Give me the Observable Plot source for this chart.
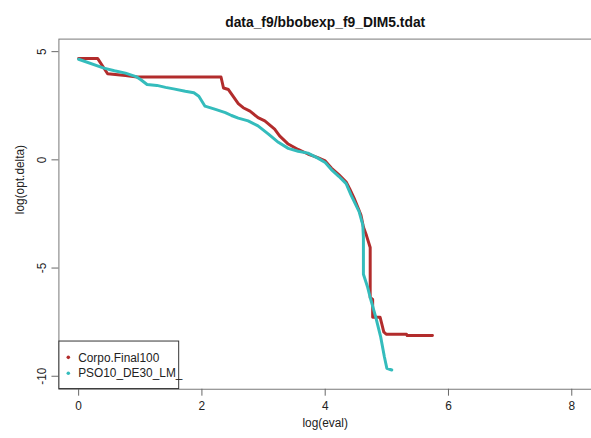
<!DOCTYPE html>
<html>
<head>
<meta charset="utf-8">
<script src="https://cdn.jsdelivr.net/npm/d3@7"></script>
<script src="https://cdn.jsdelivr.net/npm/@observablehq/plot@0.6"></script>
<style>
  html, body { margin: 0; padding: 0; background: #fff; overflow: hidden; }
  #chart { width: 591px; height: 438px; overflow: hidden; }
  svg { font-family: "Liberation Sans", Arial, sans-serif; }
</style>
</head>
<body>
<div id="chart"></div>
<script>
// Convergence traces on BBOB f9, 5-D: log(eval) vs log(opt.delta)
const title = "data_f9/bbobexp_f9_DIM5.tdat";
const xLabel = "log(eval)";
const yLabel = "log(opt.delta)";
const seriesNames = ["Corpo.Final100", "PSO10_DE30_LM_"];
const seriesColors = ["#b22c2c", "#34bcbc"];
const xTicks = [0, 2, 4, 6, 8];
const yTicks = [-10, -5, 0, 5];

const corpoX = [0, 0.31, 0.47, 0.76, 0.95, 2.31, 2.35, 2.43, 2.59, 2.67, 2.78, 2.91, 3.02, 3.18, 3.26, 3.40,
  3.56, 3.72, 3.88, 4.00, 4.10, 4.22, 4.34, 4.40, 4.47, 4.58, 4.62, 4.67, 4.73, 4.73, 4.77, 4.77, 4.89, 4.92, 4.95,
  4.99, 5.32, 5.33, 5.74];
const corpoY = [4.68, 4.68, 3.98, 3.90, 3.83, 3.83, 3.32, 3.25, 2.60, 2.41, 2.25, 1.95, 1.80, 1.42, 1.11, 0.73,
  0.48, 0.27, 0.10, -0.05, -0.38, -0.68, -1.02, -1.35, -1.78, -2.55, -3.10, -3.50, -4.05, -6.36, -6.45, -7.27, -7.27, -7.60, -7.95,
  -8.06, -8.06, -8.12, -8.12];

const psoX = [0, 0.41, 0.58, 0.76, 0.93, 1.01, 1.11, 1.27, 1.41, 1.54, 1.73, 1.87, 1.95, 2.05, 2.22, 2.38,
  2.48, 2.59, 2.75, 2.91, 3.08, 3.24, 3.40, 3.56, 3.72, 3.88, 4.00, 4.10, 4.22, 4.34, 4.42, 4.55, 4.61, 4.62,
  4.62, 4.69, 4.73, 4.82, 4.90, 4.96, 5.00, 5.08];
const psoY = [4.65, 4.24, 4.12, 4.01, 3.85, 3.70, 3.48, 3.44, 3.35, 3.28, 3.17, 3.10, 2.94, 2.48, 2.33, 2.18,
  2.05, 1.93, 1.80, 1.57, 1.19, 0.81, 0.53, 0.40, 0.31, 0.08, -0.12, -0.45, -0.76, -1.10, -1.63, -2.39, -3.00, -3.61,
  -5.29, -5.90, -6.36, -7.27, -8.18, -9.10, -9.63, -9.71];

const corpo = corpoX.map((x, i) => ({x, y: corpoY[i]}));
const pso = psoX.map((x, i) => ({x, y: psoY[i]}));

const font = "Liberation Sans, Arial, sans-serif";

const plot = Plot.plot({
  width: 597,
  height: 438,
  marginLeft: 59,
  marginRight: 0,
  marginTop: 39,
  marginBottom: 45.3,
  style: {fontFamily: font, background: "#fff", overflow: "visible"},
  x: {domain: [-0.32, 8.32]},
  y: {domain: [-10.6, 5.58]},
  marks: [
    Plot.frame({stroke: "#777", strokeWidth: 1}),
    Plot.axisX({ticks: xTicks, tickSize: 7, tickPadding: 5, fontSize: 12, label: null, stroke: "#666", color: "#222", tickFormat: d => String(d)}),
    Plot.axisY({ticks: yTicks, tickSize: 7, tickFormat: () => "", label: null, stroke: "#666"}),
    Plot.text(yTicks, {y: d => d, frameAnchor: "left", dx: -17, rotate: -90, text: d => String(d),
      fontSize: 12, fill: "#222", textAnchor: "middle", lineAnchor: "middle"}),
    Plot.line(corpo, {x: "x", y: "y", stroke: seriesColors[0], strokeWidth: 3, strokeLinejoin: "round"}),
    Plot.line(pso, {x: "x", y: "y", stroke: seriesColors[1], strokeWidth: 3, strokeLinejoin: "round"}),
    Plot.text([title], {frameAnchor: "top", dy: -22, text: d => d, fontSize: 14, fontWeight: "bold", fill: "#111"}),
    Plot.text([xLabel], {frameAnchor: "bottom", dy: 38, text: d => d, fontSize: 12, fill: "#222"}),
    Plot.text([yLabel], {frameAnchor: "left", dx: -39, rotate: -90, text: d => d, fontSize: 12, fill: "#222"})
  ]
});

// Legend in the lower-left corner of the plotting region
const svg = d3.select(plot);
const lg = svg.append("g").attr("font-family", font).attr("font-size", 12).attr("text-anchor", "start");
lg.append("rect").attr("x", 59.5).attr("y", 344.5).attr("width", 121).attr("height", 48)
  .attr("fill", "#fff").attr("stroke", "#333").attr("stroke-width", 1);
seriesNames.forEach((name, i) => {
  const cy = 361 + i * 16;
  lg.append("circle").attr("cx", 69).attr("cy", cy).attr("r", 1.8).attr("fill", seriesColors[i]);
  lg.append("text").attr("x", 79).attr("y", cy).attr("dy", "0.35em").attr("text-anchor", "start")
    .attr("fill", "#222").text(name);
});

document.getElementById("chart").appendChild(plot);
</script>
</body>
</html>
